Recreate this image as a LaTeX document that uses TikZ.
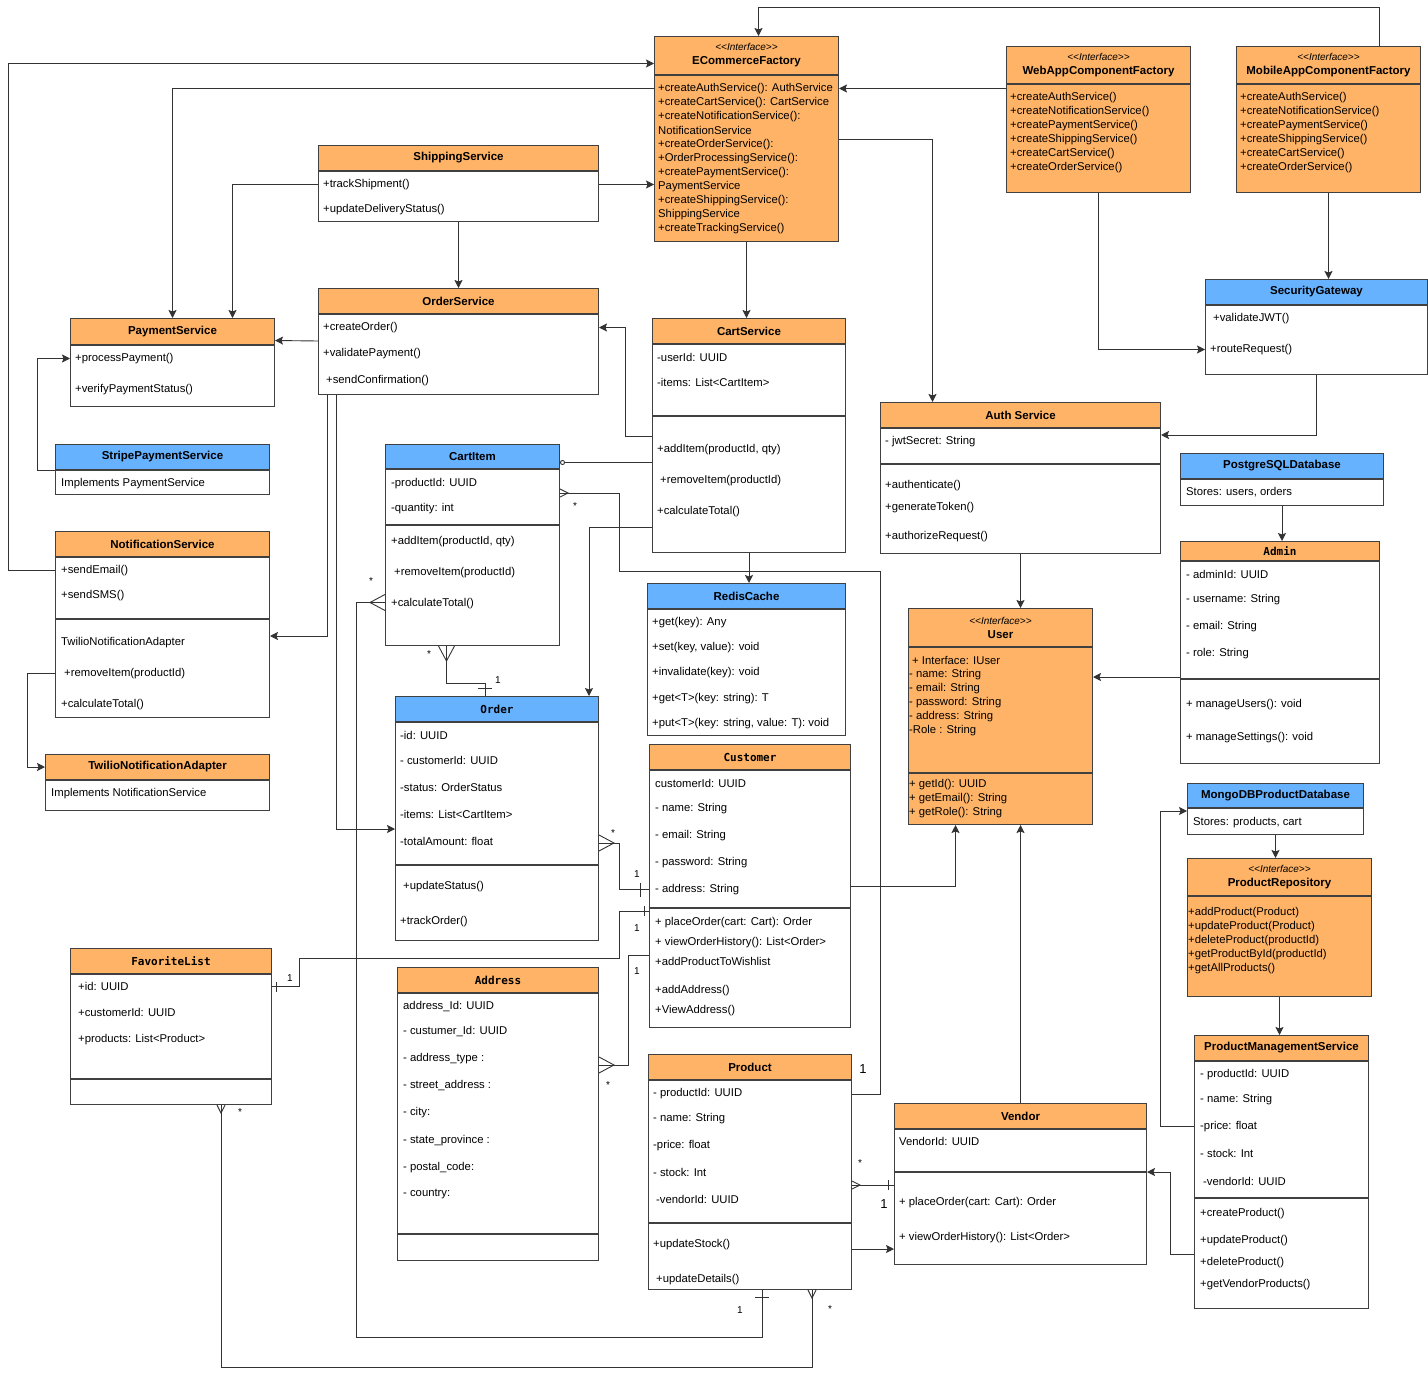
\documentclass[tikz,border=0pt]{standalone}
\usepackage{fontspec}
\setmainfont{Liberation Sans}
\setmonofont{DejaVu Sans Mono}
\usetikzlibrary{positioning, arrows.meta, calc}

\definecolor{boxorange}{HTML}{FFB366}
\definecolor{boxblue}{HTML}{66B2FF}
\definecolor{edgegray}{HTML}{404040}
\definecolor{linegray}{HTML}{333333}

\newcommand{\stereo}{{\mdseries\itshape\fontsize{10}{14}\selectfont <\kern0pt<Interface>\kern0pt>}}

\begin{document}
\begin{tikzpicture}[
    x=1pt, y=-1pt,
    % Define styles
    classbox/.style={rectangle, draw=edgegray, line width=1pt, anchor=north west, inner sep=2pt, fill=white},
    classhead/.style={classbox, fill=boxorange, align=center, font=\bfseries\fontsize{11.5}{14}\selectfont},
    bluehead/.style={classhead, fill=boxblue},
    monohead/.style={classhead, font=\ttfamily\bfseries\fontsize{11}{14}\selectfont},
    member/.style={anchor=west, inner sep=0pt, yshift=-1.5pt, font=\fontsize{11.3}{13}\selectfont},
    multlabel/.style={inner sep=0pt, font=\fontsize{10}{12}\selectfont},
    conn/.style={draw=linegray, line width=0.9pt},
    arrow/.style={conn, -{Stealth[length=8pt, width=8pt, inset=1.5pt]}},
    crowfoot/.pic={\draw[conn] (0,-8) -- (15,0) -- (0,8);},
    smallcrow/.pic={\draw[conn] (0,-4) -- (8,0) -- (0,4);},
    onebar/.pic={\draw[conn] (0,-7) -- (0,7);},
    smallbar/.pic={\draw[conn] (0,-5) -- (0,5);}
]
    \fill[white] (0,0) rectangle (1428,1375);
    \useasboundingbox (0,0) rectangle (1428,1375);

    % --- FACTORIES ---
    \node[classhead, minimum width=184, minimum height=38] (ecf) at (654,36) {\stereo\\ECommerceFactory};
    \node[classbox, fill=boxorange, minimum width=184, minimum height=166] (ecfB) at (ecf.south west) {};
    \foreach \txt [count=\i] in {{+createAuthService(): AuthService}, {+createCartService(): CartService},
        {+createNotificationService():}, NotificationService, {+createOrderService():},
        {+OrderProcessingService():}, {+createPaymentService():}, PaymentService,
        {+createShippingService():}, ShippingService, {+createTrackingService()}}
        \node[member] (ecf-m\i) at (658,{73+14*\i}) {\txt};

    \node[classhead, minimum width=184, minimum height=37] (web) at (1006,46) {\stereo\\WebAppComponentFactory};
    \node[classbox, fill=boxorange, minimum width=184, minimum height=108] (webB) at (web.south west) {};
    \foreach \txt [count=\i] in {+createAuthService(), +createNotificationService(), +createPaymentService(),
        +createShippingService(), +createCartService(), +createOrderService()}
        \node[member] (web-m\i) at (1010,{82+14*\i}) {\txt};

    \node[classhead, minimum width=184, minimum height=37] (mob) at (1236,46) {\stereo\\MobileAppComponentFactory};
    \node[classbox, fill=boxorange, minimum width=184, minimum height=108] (mobB) at (mob.south west) {};
    \foreach \txt [count=\i] in {+createAuthService(), +createNotificationService(), +createPaymentService(),
        +createShippingService(), +createCartService(), +createOrderService()}
        \node[member] (mob-m\i) at (1240,{82+14*\i}) {\txt};

    % --- SERVICES ---
    \node[classhead, minimum width=280, minimum height=25] (ship) at (318,145) {ShippingService};
    \node[classbox, minimum width=280, minimum height=50] (shipB) at (ship.south west) {};
    \foreach \yy/\txt [count=\i] in {183/+trackShipment(), 208/+updateDeliveryStatus()}
        \node[member] (ship-m\i) at (323,\yy) {\txt};

    \node[classhead, minimum width=280, minimum height=25] (ords) at (318,288) {OrderService};
    \node[classbox, minimum width=280, minimum height=80] (ordsB) at (ords.south west) {};
    \foreach \yy/\txt [count=\i] in {326/+createOrder(), 352/+validatePayment(), 379/{\hspace{3pt}+sendConfirmation()}}
        \node[member] (ords-m\i) at (323,\yy) {\txt};

    \node[classhead, minimum width=204, minimum height=26] (pay) at (70,318) {PaymentService};
    \node[classbox, minimum width=204, minimum height=61] (payB) at (pay.south west) {};
    \foreach \yy/\txt [count=\i] in {357/+processPayment(), 388/+verifyPaymentStatus()}
        \node[member] (pay-m\i) at (75,\yy) {\txt};

    \node[classhead, minimum width=193, minimum height=25] (cart) at (652,318) {CartService};
    \node[classbox, minimum width=193, minimum height=71] (cartA) at (cart.south west) {};
    \node[classbox, minimum width=193, minimum height=136] (cartM) at (cartA.south west) {};
    \foreach \yy/\txt [count=\i] in {356/-userId: UUID, 381/-items: List<CartItem>}
        \node[member] (cart-a\i) at (657,\yy) {\txt};
    \foreach \yy/\txt [count=\i] in {448/{+addItem(productId, qty)}, 479/{\hspace{3pt}+removeItem(productId)}, 510/+calculateTotal()}
        \node[member] (cart-m\i) at (657,\yy) {\txt};

    \node[classhead, minimum width=280, minimum height=25] (auth) at (880,402) {Auth Service};
    \node[classbox, minimum width=280, minimum height=35] (authA) at (auth.south west) {};
    \node[classbox, minimum width=280, minimum height=89] (authM) at (authA.south west) {};
    \node[member] (auth-a1) at (885,440) {- jwtSecret: String};
    \foreach \yy/\txt [count=\i] in {484/+authenticate(), 506/+generateToken(), 535/+authorizeRequest()}
        \node[member] (auth-m\i) at (885,\yy) {\txt};

    \node[bluehead, minimum width=222, minimum height=25] (sec) at (1205,279) {SecurityGateway};
    \node[classbox, minimum width=222, minimum height=69] (secB) at (sec.south west) {};
    \foreach \yy/\txt [count=\i] in {317/{\hspace{3pt}+validateJWT()}, 348/+routeRequest()}
        \node[member] (sec-m\i) at (1210,\yy) {\txt};

    \node[bluehead, minimum width=214, minimum height=25] (stripe) at (55,444) {StripePaymentService};
    \node[classbox, minimum width=214, minimum height=24] (stripeB) at (stripe.south west) {};
    \node[member] (stripe-a1) at (61,482) {Implements PaymentService};

    \node[classhead, minimum width=214, minimum height=25] (notif) at (55,531) {NotificationService};
    \node[classbox, minimum width=214, minimum height=61] (notifA) at (notif.south west) {};
    \node[classbox, minimum width=214, minimum height=98] (notifM) at (notifA.south west) {};
    \foreach \yy/\txt [count=\i] in {569/+sendEmail(), 594/+sendSMS()}
        \node[member] (notif-a\i) at (61,\yy) {\txt};
    \foreach \yy/\txt [count=\i] in {641/TwilioNotificationAdapter, 672/{\hspace{3pt}+removeItem(productId)}, 703/+calculateTotal()}
        \node[member] (notif-m\i) at (61,\yy) {\txt};

    \node[classhead, minimum width=224, minimum height=25] (twilio) at (45,754) {TwilioNotificationAdapter};
    \node[classbox, minimum width=224, minimum height=30] (twilioB) at (twilio.south west) {};
    \node[member] (twilio-a1) at (51,792) {Implements NotificationService};

    % --- CART AND ORDER ---
    \node[bluehead, minimum width=174, minimum height=24] (citem) at (385,444) {CartItem};
    \node[classbox, minimum width=174, minimum height=55] (citemA) at (citem.south west) {};
    \node[classbox, minimum width=174, minimum height=120] (citemM) at (citemA.south west) {};
    \foreach \yy/\txt [count=\i] in {482/-productId: UUID, 507/-quantity: int}
        \node[member] (citem-a\i) at (391,\yy) {\txt};
    \foreach \yy/\txt [count=\i] in {540/{+addItem(productId, qty)}, 571/{\hspace{3pt}+removeItem(productId)}, 602/+calculateTotal()}
        \node[member] (citem-m\i) at (391,\yy) {\txt};

    \node[bluehead, minimum width=198, minimum height=25] (redis) at (647,583) {RedisCache};
    \node[classbox, minimum width=198, minimum height=126] (redisB) at (redis.south west) {};
    \foreach \yy/\txt [count=\i] in {621/+get(key): Any, 646/{+set(key, value): void}, 671/+invalidate(key): void,
        697/+get<T>(key: string): T, 722/{+put<T>(key: string, value: T): void}}
        \node[member] (redis-m\i) at (652,\yy) {\txt};

    \node[monohead, fill=boxblue, minimum width=203, minimum height=25] (order) at (395,696) {Order};
    \node[classbox, minimum width=203, minimum height=142] (orderA) at (order.south west) {};
    \node[classbox, minimum width=203, minimum height=75] (orderM) at (orderA.south west) {};
    \foreach \yy/\txt [count=\i] in {734/-id: UUID, 759/- customerId: UUID, 786/-status: OrderStatus,
        813/-items: List<CartItem>, 840/-totalAmount: float}
        \node[member] (order-a\i) at (400,\yy) {\txt};
    \foreach \yy/\txt [count=\i] in {885/{\hspace{3pt}+updateStatus()}, 920/+trackOrder()}
        \node[member] (order-m\i) at (400,\yy) {\txt};

    \node[monohead, minimum width=201, minimum height=25] (cust) at (649,744) {Customer};
    \node[classbox, minimum width=201, minimum height=137] (custA) at (cust.south west) {};
    \node[classbox, minimum width=201, minimum height=119] (custM) at (custA.south west) {};
    \foreach \yy/\txt [count=\i] in {782/customerId: UUID, 807/- name: String, 834/- email: String,
        861/- password: String, 888/- address: String}
        \node[member] (cust-a\i) at (655,\yy) {\txt};
    \foreach \yy/\txt [count=\i] in {921/{+ placeOrder(cart: Cart): Order}, 941/{+ viewOrderHistory(): List<Order>},
        960/+addProductToWishlist, 989/+addAddress(), 1009/+ViewAddress()}
        \node[member] (cust-m\i) at (655,\yy) {\txt};

    \node[monohead, minimum width=201, minimum height=25] (fav) at (70,948) {FavoriteList};
    \node[classbox, minimum width=201, minimum height=104] (favA) at (fav.south west) {};
    \node[classbox, minimum width=201, minimum height=25] (favM) at (favA.south west) {};
    \foreach \yy/\txt [count=\i] in {985/+id: UUID, 1011/+customerId: UUID, 1038/+products: List<Product>}
        \node[member] (fav-a\i) at (78,\yy) {\txt};

    \node[monohead, minimum width=201, minimum height=25] (addr) at (397,967) {Address};
    \node[classbox, minimum width=201, minimum height=240] (addrA) at (addr.south west) {};
    \node[classbox, minimum width=201, minimum height=26] (addrM) at (addrA.south west) {};
    \foreach \yy/\txt [count=\i] in {1005/address\_Id: UUID, 1030/- custumer\_Id: UUID, 1057/- address\_type :,
        1084/- street\_address :, 1111/- city:, 1139/- state\_province :, 1166/- postal\_code:, 1193/- country:}
        \node[member] (addr-a\i) at (403,\yy) {\txt};

    \node[classhead, minimum width=203, minimum height=25] (prod) at (648,1054) {Product};
    \node[classbox, minimum width=203, minimum height=142] (prodA) at (prod.south west) {};
    \node[classbox, minimum width=203, minimum height=66] (prodM) at (prodA.south west) {};
    \foreach \yy/\txt [count=\i] in {1092/- productId: UUID, 1117/- name: String, 1144/-price: float,
        1171/- stock: Int, 1198/{\hspace{3pt}-vendorId: UUID}}
        \node[member] (prod-a\i) at (653,\yy) {\txt};
    \foreach \yy/\txt [count=\i] in {1243/+updateStock(), 1278/{\hspace{3pt}+updateDetails()}}
        \node[member] (prod-m\i) at (653,\yy) {\txt};

    \node[classhead, minimum width=252, minimum height=25] (vend) at (894,1103) {Vendor};
    \node[classbox, minimum width=252, minimum height=42] (vendA) at (vend.south west) {};
    \node[classbox, minimum width=252, minimum height=92] (vendM) at (vendA.south west) {};
    \node[member] (vend-a1) at (899,1140) {VendorId: UUID};
    \foreach \yy/\txt [count=\i] in {1201/{+ placeOrder(cart: Cart): Order}, 1236/{+ viewOrderHistory(): List<Order>}}
        \node[member] (vend-m\i) at (899,\yy) {\txt};

    % --- USERS AND STORAGE ---
    \node[classhead, minimum width=184, minimum height=38] (user) at (908,608) {\stereo\\User};
    \node[classbox, fill=boxorange, minimum width=184, minimum height=125] (userA) at (user.south west) {};
    \node[classbox, fill=boxorange, minimum width=184, minimum height=51] (userM) at (userA.south west) {};
    \foreach \txt [count=\i] in {{\hspace{3pt}+ Interface: IUser}, - name: String, - email: String,
        - password: String, - address: String, -Role : String}
        \node[member] (user-a\i) at (909,{645+14*\i}) {\txt};
    \foreach \txt [count=\i] in {+ getId(): UUID, + getEmail(): String, + getRole(): String}
        \node[member] (user-m\i) at (909,{769+14*\i}) {\txt};

    \node[bluehead, minimum width=203, minimum height=25] (pg) at (1180,453) {PostgreSQLDatabase};
    \node[classbox, minimum width=203, minimum height=26] (pgB) at (pg.south west) {};
    \node[member] (pg-a1) at (1186,491) {Stores: users, orders};

    \node[monohead, minimum width=199, minimum height=19] (admin) at (1180,541) {Admin};
    \node[classbox, minimum width=199, minimum height=117] (adminA) at (admin.south west) {};
    \node[classbox, minimum width=199, minimum height=84] (adminM) at (adminA.south west) {};
    \foreach \yy/\txt [count=\i] in {573/- adminId: UUID, 598/- username: String, 625/- email: String, 652/- role: String}
        \node[member] (admin-a\i) at (1186,\yy) {\txt};
    \foreach \yy/\txt [count=\i] in {703/+ manageUsers(): void, 736/+ manageSettings(): void}
        \node[member] (admin-m\i) at (1186,\yy) {\txt};

    \node[bluehead, minimum width=176, minimum height=24] (mongo) at (1187,783) {MongoDBProductDatabase};
    \node[classbox, minimum width=176, minimum height=26] (mongoB) at (mongo.south west) {};
    \node[member] (mongo-a1) at (1193,821) {Stores: products, cart};

    \node[classhead, minimum width=184, minimum height=37] (prepo) at (1187,858) {\stereo\\ProductRepository};
    \node[classbox, fill=boxorange, minimum width=184, minimum height=100] (prepoB) at (prepo.south west) {};
    \foreach \txt [count=\i] in {+addProduct(Product), +updateProduct(Product), +deleteProduct(productId),
        +getProductById(productId), +getAllProducts()}
        \node[member] (prepo-m\i) at (1188,{897+14*\i}) {\txt};

    \node[classhead, minimum width=174, minimum height=25] (pms) at (1194,1035) {ProductManagementService};
    \node[classbox, minimum width=174, minimum height=136] (pmsA) at (pms.south west) {};
    \node[classbox, minimum width=174, minimum height=110] (pmsM) at (pmsA.south west) {};
    \foreach \yy/\txt [count=\i] in {1073/- productId: UUID, 1098/- name: String, 1125/-price: float,
        1152/- stock: Int, 1180/{\hspace{3pt}-vendorId: UUID}}
        \node[member] (pms-a\i) at (1200,\yy) {\txt};
    \foreach \yy/\txt [count=\i] in {1212/+createProduct(), 1239/+updateProduct(), 1261/+deleteProduct(), 1283/+getVendorProducts()}
        \node[member] (pms-m\i) at (1200,\yy) {\txt};

    % --- DRAW CONNECTIONS ---
    \draw[arrow] ([xshift=51]mob.north) -- ++(0,-39) -| ([xshift=12]ecf.north);
    \draw[arrow] (web.west |- ecf-m1) -- (ecf-m1 -| ecfB.east);
    \draw[arrow] (ecf-m1 -| ecfB.west) -| (pay.north);
    \draw[arrow] (notif-a1 -| notifA.west) -- ++(-47,0) |- ($(ecf.west)+(0,8)$);
    \draw[arrow] (ship-m1 -| shipB.east) -- (ship-m1 -| ecfB.west);
    \draw[arrow] (ship-m1 -| shipB.west) -| ([xshift=60]pay.north);
    \draw[arrow] (shipB.south) -- (ords.north);
    \draw[arrow] ($(ordsB.north west)+(0,27)$) -- ($(pay.east)+(0,9)$);
    \draw[arrow] ($(ecfB.east)+(0,-19)$) -| ([xshift=-88]auth.north);
    \draw[arrow] (ecfB.south) -- (ecfB.south |- cart.north);
    \draw[arrow] ($(cartM.north west)+(0,20)$) -- ++(-27,0) |- (ords-m1 -| ordsB.east);
    \draw[arrow] (stripe.south west) -- ++(-18,0) |- (pay-m1 -| payB.west);
    \draw[arrow] ([xshift=9]ordsB.south west) |- ($(notifM.north east)+(0,17)$);
    \draw[arrow] ([xshift=18]ordsB.south west) |- ($(orderA.north west)+(0,107)$);
    \draw[arrow] (notif-m2 -| notifM.west) -- ++(-28,0) |- (twilio.west);
    \draw[arrow] (cartM.south) -- (cartM.south |- redis.north);
    \draw[arrow] ($(cartM.south west)+(0,-26)$) -| ([xshift=92]order.north);

    % aggregation CartItem - CartService
    \coordinate (aggA) at ($(citem.east)+(0,6)$);
    \draw[conn, {Circle[open, length=5pt, width=5pt]}-] (aggA) -- (aggA -| cartM.west);

    % CartItem - Product
    \coordinate (cfA) at ($(citemA.north east)+(0,24)$);
    \draw[conn] (cfA) -- ++(59,0) -- ++(0,78) -- ++(261,0) |- ($(prodA.north east)+(0,14)$);
    \pic at (cfA) {smallcrow};

    % CartItem - Order
    \coordinate (cfB) at ([xshift=-26]citemM.south);
    \draw[conn] (cfB) -- ++(0,37) -| ([xshift=-12]order.north);
    \pic[rotate=-90] at (cfB) {crowfoot};
    \pic[rotate=90] at ($([xshift=-12]order.north)+(0,-8)$) {onebar};

    % CartItem - Product (bottom loop)
    \coordinate (cfC) at ($(citemM.west)+(0,17)$);
    \draw[conn] (cfC) -- ++(-29,0) -- ++(0,735) -| ([xshift=12]prodM.south);
    \pic[rotate=180] at (cfC) {crowfoot};
    \pic[rotate=90] at ($([xshift=12]prodM.south)+(0,7)$) {onebar};

    % Order - Customer
    \coordinate (cfD) at ($(orderA.north east)+(0,121)$);
    \draw[conn] (cfD) -- ++(20,0) |- (cust-a5 -| custA.west);
    \pic at (cfD) {crowfoot};
    \pic at ($(cust-a5 -| custA.west)+(-9,0)$) {onebar};

    % FavoriteList - Customer
    \coordinate (favR) at (fav-a1 -| favA.east);
    \draw[conn] (favR) -- ++(27,0) -- ++(0,-28) -- ++(320,0) |- ($(custM.north west)+(0,3)$);
    \pic at ($(favR)+(4,0)$) {smallbar};
    \pic at ($(custM.north west)+(-5,3)$) {smallbar};

    % Customer - Address
    \coordinate (custL) at ($(custM.north west)+(0,47)$);
    \draw[conn] (custL) -- ++(-21,0) |- ($(addrA.north east)+(0,72)$);
    \pic at ($(addrA.north east)+(0,72)$) {crowfoot};

    % FavoriteList - Product
    \coordinate (favD) at ([xshift=50]favM.south);
    \draw[conn] (favD) -- ++(0,262) -| ([xshift=62]prodM.south);
    \pic[rotate=-90] at (favD) {smallcrow};
    \pic[rotate=-90] at ([xshift=62]prodM.south) {smallcrow};

    % Product - Vendor
    \coordinate (prodR) at ($(prodA.south east)+(0,-38)$);
    \draw[conn] (prodR) -- (prodR -| vendM.west);
    \pic at (prodR) {smallcrow};
    \pic at ($(prodR -| vendM.west)+(-6,0)$) {smallbar};
    \coordinate (prodR2) at ($(prodM.north east)+(0,26)$);
    \draw[arrow] (prodR2) -- (prodR2 -| vendM.west);

    \draw[arrow] ($(pmsM.north west)+(0,56)$) -- ++(-24,0) |- (vendM.north east);
    \draw[arrow] (pms-a3 -| pmsA.west) -- ++(-34,0) |- ($(mongoB.north west)+(0,3)$);
    \draw[arrow] (mongoB.south) -- (mongoB.south |- prepo.north);
    \draw[arrow] (prepoB.south) -- (prepoB.south |- pms.north);
    \draw[arrow] (pgB.south) -- (pgB.south |- admin.north);
    \coordinate (adminL) at ($(adminA.south west)+(0,-2)$);
    \draw[arrow] (adminL) -- (adminL -| userA.east);
    \draw[arrow] (authM.south) -- (authM.south |- user.north);
    \draw[arrow] (vend.north) -- (vend.north |- userM.south);
    \draw[arrow] ($(custA.east)+(0,47)$) -| ([xshift=-45]userM.south);
    \draw[arrow] (secB.south) |- ($(authA.north east)+(0,7)$);
    \draw[arrow] (webB.south) |- (sec-m2 -| secB.west);
    \draw[arrow] (mobB.south) -- (mobB.south |- sec.north);

    % --- MULTIPLICITIES ---
    \node[multlabel] (mu1) at (575,506) {*};
    \node[multlabel] (mu2) at (498,680) {1};
    \node[multlabel] (mu3) at (429,654) {*};
    \node[multlabel] (mu4) at (371,581) {*};
    \node[multlabel] (mu5) at (740,1310) {1};
    \node[multlabel] (mu6) at (613,833) {*};
    \node[multlabel] (mu7) at (637,874) {1};
    \node[multlabel] (mu8) at (637,928) {1};
    \node[multlabel] (mu9) at (637,971) {1};
    \node[multlabel] (mu10) at (608,1085) {*};
    \node[multlabel] (mu11) at (290,978) {1};
    \node[multlabel] (mu12) at (240,1112) {*};
    \node[multlabel] (mu13) at (830,1309) {*};
    \node[multlabel, font=\fontsize{13}{15}\selectfont] (mu14) at (863,1069) {1};
    \node[multlabel] (mu15) at (860,1163) {*};
    \node[multlabel, font=\fontsize{13}{15}\selectfont] (mu16) at (884,1204) {1};

\end{tikzpicture}
\end{document}
